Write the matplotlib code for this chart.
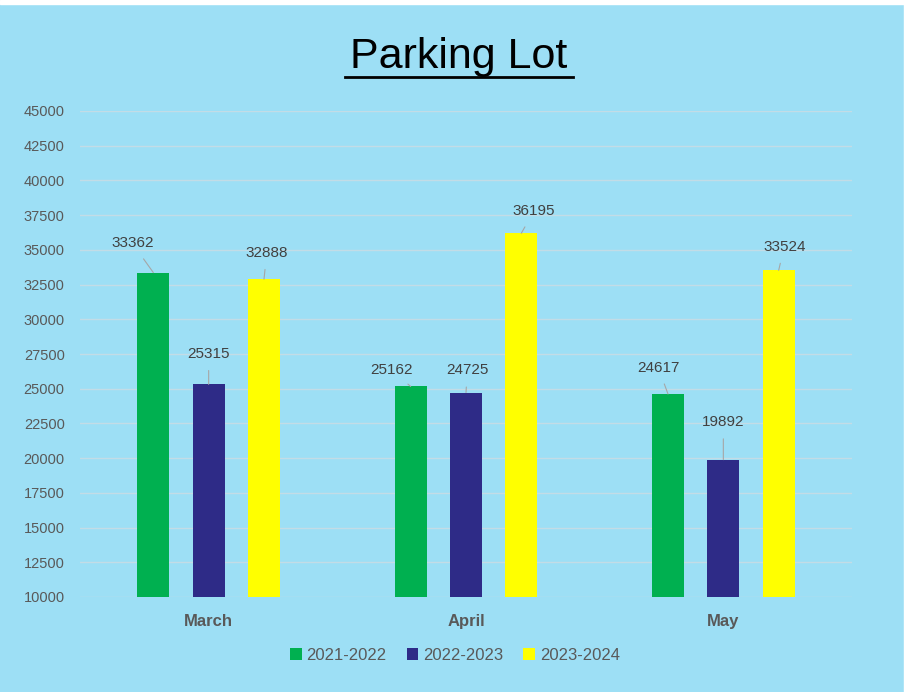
import matplotlib
matplotlib.use("Agg")
import matplotlib.pyplot as plt
import numpy as np

plt.rcParams['font.family'] = ['Liberation Sans', 'DejaVu Sans']

categories = ["March", "April", "May"]
series_names = ["2021-2022", "2022-2023", "2023-2024"]
values_2021 = [33362, 25162, 24617]
values_2022 = [25315, 24725, 19892]
values_2023 = [32888, 36195, 33524]
yticks = list(range(10000, 45001, 2500))

colors = ["#00B050", "#2E2B87", "#FFFF00"]
bg = "#9DDFF5"
series = [values_2021, values_2022, values_2023]
# label offsets (points) for leader-line data labels
label_offsets = [
    [(-15, 21), (-14, 12), (-7, 19)],
    [(0, 22), (1, 16), (0, 27)],
    [(2, 19), (9, 16), (4, 17)],
]

fig = plt.figure(figsize=(9.07, 6.92), dpi=100, facecolor=bg)
ax = fig.add_axes([80/907, 1-597/692, 772/907, 486/692])
ax.set_facecolor(bg)

x = np.arange(len(categories))
offset = 0.215
width = 0.124
for i, (vals, col, name) in enumerate(zip(series, colors, series_names)):
    xs = x + (i - 1) * offset
    ax.bar(xs, np.array(vals) - 10000, bottom=10000, width=width, color=col,
           label=name, zorder=3)
    for j, (xx, v) in enumerate(zip(xs, vals)):
        dx, dy = label_offsets[i][j]
        ax.annotate(str(v), xy=(xx, v), xytext=(dx, dy), textcoords='offset points',
                    ha='center', va='center', fontsize=11, color='#404040',
                    arrowprops=dict(arrowstyle='-', color='#A6A6A6', lw=0.8,
                                    shrinkA=5, shrinkB=0), zorder=4)

ax.set_xlim(-0.5, 2.5)
ax.set_ylim(10000, 45000)
ax.set_yticks(yticks)
ax.set_yticklabels([str(t) for t in yticks], fontsize=10.5, color='#595959')
ax.set_xticks(x)
ax.set_xticklabels(categories, fontsize=12, fontweight='bold', color='#595959')
ax.tick_params(axis='both', length=0)
ax.tick_params(axis='x', pad=12)
ax.tick_params(axis='y', pad=11)
ax.grid(axis='y', color='#C3DCE6', lw=1.0, zorder=0)
for s in ax.spines.values():
    s.set_visible(False)

fig.text(459/907, 1-57/692, "Parking Lot", ha='center', va='center', fontsize=31,
         color='black')
fig.add_artist(plt.Line2D([345/907, 573/907], [1-77/692, 1-77/692], color='black', lw=2))

handles, labels = ax.get_legend_handles_labels()
leg = fig.legend(handles, labels, loc='center', bbox_to_anchor=(455/907, 1-655/692),
                 ncol=3, frameon=False, fontsize=12, handlelength=0.7, handleheight=0.7,
                 handletextpad=0.3, columnspacing=1.2, labelcolor='#595959')

# white strip at top and right
fig.add_artist(plt.Rectangle((0, 1-4/692), 1, 4/692, transform=fig.transFigure,
                             color='white', zorder=10))
fig.add_artist(plt.Rectangle((1-3/907, 0), 3/907, 1, transform=fig.transFigure,
                             color='white', zorder=10))

fig.savefig("out.png", dpi=100, facecolor=bg)
